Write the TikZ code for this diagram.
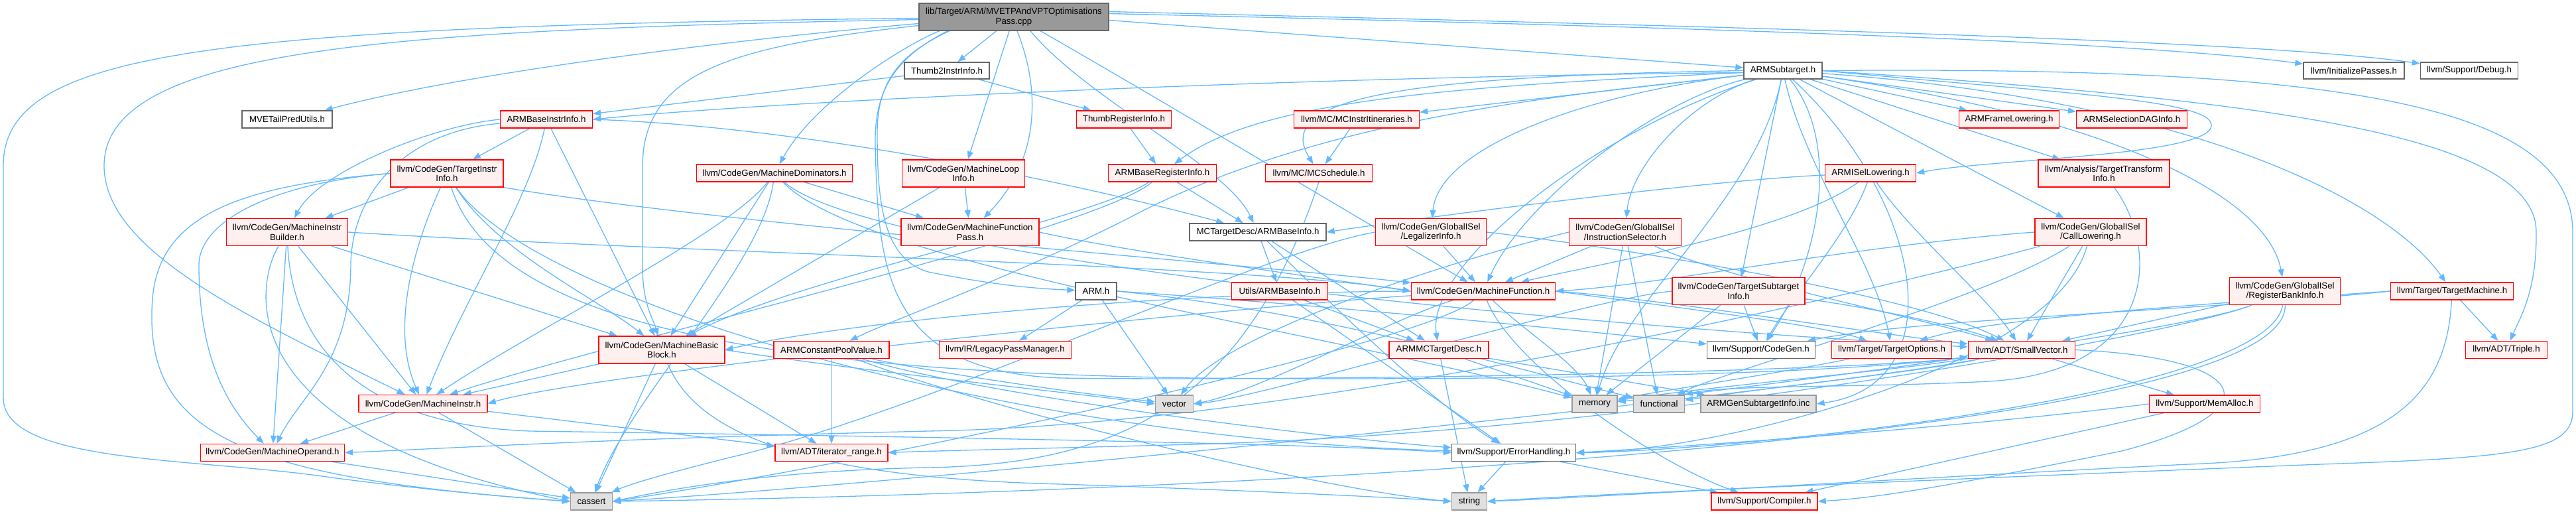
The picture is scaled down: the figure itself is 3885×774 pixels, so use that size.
\documentclass[tikz,border=0pt]{standalone}
\usepackage{fontspec}
\setmainfont{Liberation Sans}
\usetikzlibrary{arrows.meta}
\pgfdeclarelayer{bg}
\pgfsetlayers{bg,main}
\definecolor{edgec}{HTML}{63B8FF}
\definecolor{redfill}{HTML}{FFF0F0}
\definecolor{mainfill}{HTML}{999999}
\definecolor{sysfill}{HTML}{E0E0E0}
\definecolor{greyline}{HTML}{666666}
\definecolor{sysline}{HTML}{999999}
\tikzset{
 box/.style={draw, line width=1.3pt, inner sep=0pt, align=center, font=\fontsize{13.3}{14.5}\selectfont, text=black},
 rbox/.style={box, draw=red, fill=redfill},
 wbox/.style={box, draw=greyline, fill=white},
 sbox/.style={box, draw=sysline, fill=sysfill},
 mbox/.style={box, draw=greyline, fill=mainfill},
 e/.style={draw=edgec, line width=1.3pt, -{Triangle[length=12pt,width=9pt]}},
}
\begin{document}
\begin{tikzpicture}[x=1pt,y=-1pt]
\useasboundingbox (0,0) rectangle (3885,774);
% nodes
\node[mbox, minimum width=286pt, minimum height=41pt] (main) at (1529,25.5) {lib/Target/ARM/MVETPAndVPTOptimisations\\Pass.cpp};
\node[wbox, minimum width=128pt, minimum height=25pt] (thumb2) at (1428,106.5) {Thumb2InstrInfo.h};
\node[wbox, minimum width=118pt, minimum height=25pt] (armsub) at (2689,106.5) {ARMSubtarget.h};
\node[wbox, minimum width=152pt, minimum height=25pt] (initp) at (3550,106.5) {llvm/InitializePasses.h};
\node[wbox, minimum width=147pt, minimum height=25pt] (debug) at (3724,106.5) {llvm/Support/Debug.h};
\node[wbox, minimum width=136pt, minimum height=26pt] (mvetp) at (433,180) {MVETailPredUtils.h};
\node[rbox, minimum width=139pt, minimum height=26pt] (abii) at (824,180) {ARMBaseInstrInfo.h};
\node[rbox, minimum width=143pt, minimum height=26pt] (thumbreg) at (1695,180) {ThumbRegisterInfo.h};
\node[rbox, minimum width=189pt, minimum height=26pt] (mcitin) at (2046,180) {llvm/MC/MCInstrItineraries.h};
\node[rbox, minimum width=151pt, minimum height=26pt] (armframe) at (3030,180) {ARMFrameLowering.h};
\node[rbox, minimum width=167pt, minimum height=26pt] (armsdag) at (3215,180) {ARMSelectionDAGInfo.h};
\node[rbox, minimum width=170pt, minimum height=41pt] (tii) at (674,261.5) {llvm/CodeGen/TargetInstr\\Info.h};
\node[rbox, minimum width=235pt, minimum height=26pt] (mdom) at (1168,261) {llvm/CodeGen/MachineDominators.h};
\node[rbox, minimum width=185pt, minimum height=41pt] (mloop) at (1453,261.5) {llvm/CodeGen/MachineLoop\\Info.h};
\node[rbox, minimum width=163pt, minimum height=26pt] (abri) at (1753,261) {ARMBaseRegisterInfo.h};
\node[rbox, minimum width=161pt, minimum height=26pt] (mcsched) at (1989,261) {llvm/MC/MCSchedule.h};
\node[rbox, minimum width=137pt, minimum height=26pt] (isel) at (2821,261) {ARMISelLowering.h};
\node[rbox, minimum width=198pt, minimum height=41pt] (tti) at (3173,261.5) {llvm/Analysis/TargetTransform\\Info.h};
\node[rbox, minimum width=183pt, minimum height=41pt] (mib) at (433,350) {llvm/CodeGen/MachineInstr\\Builder.h};
\node[rbox, minimum width=208pt, minimum height=41pt] (mfp) at (1463,350) {llvm/CodeGen/MachineFunction\\Pass.h};
\node[wbox, minimum width=206pt, minimum height=26pt] (mcabi) at (1897,350) {MCTargetDesc/ARMBaseInfo.h};
\node[rbox, minimum width=167pt, minimum height=41pt] (legal) at (2158,350) {llvm/CodeGen/GlobalISel\\/LegalizerInfo.h};
\node[rbox, minimum width=169pt, minimum height=41pt] (instsel) at (2451,350) {llvm/CodeGen/GlobalISel\\/InstructionSelector.h};
\node[rbox, minimum width=168pt, minimum height=41pt] (calllow) at (3153,350) {llvm/CodeGen/GlobalISel\\/CallLowering.h};
\node[wbox, minimum width=62pt, minimum height=26pt] (armh) at (1653,439) {ARM.h};
\node[rbox, minimum width=145pt, minimum height=26pt] (uabi) at (1930,439) {Utils/ARMBaseInfo.h};
\node[rbox, minimum width=217pt, minimum height=26pt] (mf) at (2237,439) {llvm/CodeGen/MachineFunction.h};
\node[rbox, minimum width=200pt, minimum height=41pt] (tsi) at (2622,439) {llvm/CodeGen/TargetSubtarget\\Info.h};
\node[rbox, minimum width=167pt, minimum height=41pt] (rbi) at (3446,439) {llvm/CodeGen/GlobalISel\\/RegisterBankInfo.h};
\node[rbox, minimum width=185pt, minimum height=26pt] (tm) at (3698,439) {llvm/Target/TargetMachine.h};
\node[rbox, minimum width=190pt, minimum height=41pt] (mbb) at (998,527.5) {llvm/CodeGen/MachineBasic\\Block.h};
\node[rbox, minimum width=174pt, minimum height=26pt] (acpv) at (1254,527.5) {ARMConstantPoolValue.h};
\node[rbox, minimum width=199pt, minimum height=26pt] (lpm) at (1516,527.5) {llvm/IR/LegacyPassManager.h};
\node[rbox, minimum width=150pt, minimum height=26pt] (mcdesc) at (2170,527.5) {ARMMCTargetDesc.h};
\node[wbox, minimum width=163pt, minimum height=26pt] (codegen) at (2656,527.5) {llvm/Support/CodeGen.h};
\node[rbox, minimum width=181pt, minimum height=26pt] (topt) at (2853,527.5) {llvm/Target/TargetOptions.h};
\node[rbox, minimum width=161pt, minimum height=26pt] (svec) at (3049,527.5) {llvm/ADT/SmallVector.h};
\node[rbox, minimum width=123pt, minimum height=26pt] (triple) at (3780,527.5) {llvm/ADT/Triple.h};
\node[rbox, minimum width=194pt, minimum height=26pt] (minstr) at (638,608.5) {llvm/CodeGen/MachineInstr.h};
\node[sbox, minimum width=57pt, minimum height=26pt] (vector) at (1771,609) {vector};
\node[sbox, minimum width=68pt, minimum height=26pt] (memory) at (2405,609) {memory};
\node[sbox, minimum width=77pt, minimum height=26pt] (functional) at (2502,609) {functional};
\node[sbox, minimum width=174pt, minimum height=26pt] (gensub) at (2652,609) {ARMGenSubtargetInfo.inc};
\node[rbox, minimum width=167pt, minimum height=26pt] (memalloc) at (3325,609) {llvm/Support/MemAlloc.h};
\node[rbox, minimum width=217pt, minimum height=26pt] (mop) at (411,682.5) {llvm/CodeGen/MachineOperand.h};
\node[rbox, minimum width=170pt, minimum height=26pt] (iterr) at (1254,682.5) {llvm/ADT/iterator\_range.h};
\node[wbox, minimum width=187pt, minimum height=26pt] (errh) at (2283,682.5) {llvm/Support/ErrorHandling.h};
\node[sbox, minimum width=63pt, minimum height=26pt] (cassert) at (892,756) {cassert};
\node[sbox, minimum width=53pt, minimum height=26pt] (string) at (2216,756) {string};
\node[rbox, minimum width=160pt, minimum height=26pt] (compiler) at (2661,756) {llvm/Support/Compiler.h};

\begin{pgfonlayer}{bg}
% main
\draw[e] ([yshift=-2pt]main.west) .. controls (300,40) and (5,80) .. (5,250) -- (5,600) .. controls (5,700) and (300,690) .. (500,720) .. controls (650,740) and (800,752) .. (cassert.west);
\draw[e] ([yshift=-4pt]main.west) .. controls (600,45) and (157,70) .. (157,250) .. controls (157,380) and (380,480) .. (minstr);
\draw[e] ([yshift=-10pt]main.west) .. controls (1100,60) and (700,110) .. ([xshift=-12pt]mvetp.north east);
\draw[e] ([yshift=-13pt]main.west) .. controls (1100,70) and (970,110) .. (969,250) -- (969,400) .. controls (969,460) and (985,480) .. (mbb);
\draw[e] (main) -- (thumb2);
\draw[e] (main) -- (mloop);
\draw[e] ([xshift=5pt]main.south) .. controls (1575,150) and (1560,250) .. (mfp);
\draw[e] ([xshift=-112pt]main.south) .. controls (1370,65) and (1230,150) .. (mdom);
\draw[e] ([xshift=-97pt]main.south) .. controls (1360,80) and (1323,120) .. (1323,200) .. controls (1323,300) and (1330,390) .. (1400,410) .. controls (1500,430) and (1560,435) .. (armh);
\draw[e] ([xshift=-100pt]main.south) .. controls (1355,85) and (1318,130) .. (1320,220) .. controls (1325,400) and (1330,560) .. (1600,570) .. controls (2000,575) and (2800,560) .. (svec);
\draw[e] ([xshift=40pt]main.south) .. controls (1750,150) and (2050,330) .. (mf);
\draw[e] ([xshift=25pt]main.south) .. controls (1640,150) and (1850,250) .. (mcabi);
\draw[e] ([yshift=-5pt]main.east) -- (armsub);
\draw[e] ([yshift=5pt]main.east) .. controls (2500,40) and (3200,60) .. (initp);
\draw[e] ([yshift=8pt]main.east) .. controls (2600,40) and (3400,60) .. (debug);
% thumb2
\draw[e] (thumb2) -- (abii);
\draw[e] (thumb2) -- (thumbreg);
\draw[e] (thumbreg) -- (abri);
% armsub
\draw[e] ([yshift=-3pt]armsub.west) .. controls (2000,115) and (1200,150) .. (abii.east);
\draw[e] (armsub) .. controls (2200,130) and (1900,150) .. (abri);
\draw[e] (armsub) -- (mcitin);
\draw[e] (armsub.west) .. controls (2100,115) and (1920,150) .. (mcsched);
\draw[e] (armsub) .. controls (2400,140) and (2000,170) .. (1700,330) .. controls (1500,430) and (1350,480) .. (acpv);
\draw[e] (armsub) .. controls (2400,140) and (2170,220) .. (legal);
\draw[e] (armsub) .. controls (2550,150) and (2460,250) .. (instsel);
\draw[e] (armsub) .. controls (2500,150) and (2300,300) .. (mf);
\draw[e] (armsub) -- (tsi);
\draw[e] (armsub) .. controls (2780,220) and (2740,400) .. (codegen);
\draw[e] (armsub) .. controls (2720,250) and (2830,400) .. (topt);
\draw[e] (armsub) .. controls (2900,300) and (2950,580) .. (gensub.east);
\draw[e] (armsub) .. controls (2650,300) and (2450,450) .. (memory);
\draw[e] (armsub.east) .. controls (3500,100) and (3880,150) .. (3880,350) -- (3880,620) .. controls (3880,680) and (3800,690) .. (3500,700) .. controls (3000,720) and (2400,745) .. (string.east);
\draw[e] (armsub) -- (armframe);
\draw[e] (armsub) -- (armsdag);
\draw[e] (armsub.east) .. controls (3100,140) and (3340,150) .. (3335,190) .. controls (3330,235) and (3000,240) .. (isel.east);
\draw[e] (armsub) -- (tti);
\draw[e] (armsub) -- (calllow);
\draw[e] (armsub) .. controls (3200,180) and (3420,300) .. (rbi);
\draw[e] (armsub) .. controls (3300,150) and (3600,300) .. (tm);
\draw[e] (armsub.east) .. controls (3400,150) and (3825,200) .. (3825,350) .. controls (3826,440) and (3800,480) .. (triple);
\draw[e] (armsub) .. controls (2400,200) and (2150,400) .. (mcdesc);
% abii
\draw[e] (abii) -- (tii);
\draw[e] (abii.west) .. controls (650,190) and (480,260) .. (mib);
\draw[e] ([yshift=-6pt]abii.west) .. controls (600,200) and (530,300) .. (529,400) .. controls (528,550) and (450,600) .. (mop);
\draw[e] (abii) .. controls (800,300) and (700,450) .. (minstr);
\draw[e] (abii) -- (mbb);
\draw[e] (abii.east) .. controls (1200,190) and (1600,270) .. (mcabi);
% tii
\draw[e] (tii) -- (mib);
\draw[e] (tii.west) .. controls (420,275) and (300,330) .. (300,400) .. controls (300,550) and (350,620) .. (mop);
\draw[e] (tii.west) .. controls (350,280) and (240,330) .. (230,450) .. controls (215,650) and (350,720) .. (cassert.west);
\draw[e] (tii) .. controls (620,380) and (590,500) .. (minstr);
\draw[e] (tii) .. controls (750,380) and (900,450) .. (mbb);
\draw[e] (tii.south east) .. controls (1100,340) and (1900,400) .. (mf);
\draw[e] (tii) .. controls (750,500) and (1200,560) .. (1800,570) .. controls (2400,575) and (2800,560) .. (svec);
\draw[e] (tii) .. controls (800,450) and (1500,660) .. (errh);
% mib
\draw[e] (mib) -- (mop);
\draw[e] (mib) .. controls (390,420) and (330,650) .. (cassert.west);
\draw[e] (mib) -- (minstr);
\draw[e] (mib) -- (mbb);
\draw[e] (mib.east) .. controls (1000,380) and (1900,400) .. (mf.west);
\draw[e] (mib) .. controls (440,500) and (520,640) .. (800,650) .. controls (1500,660) and (2000,670) .. (errh.west);
% mdom
\draw[e] (mdom) -- (mfp);
\draw[e] (mdom) -- (mbb);
\draw[e] (mdom) .. controls (1100,350) and (800,500) .. (minstr);
\draw[e] (mdom) .. controls (1300,380) and (2200,480) .. (svec);
\draw[e] (mdom) .. controls (1150,400) and (950,600) .. (cassert);
\draw[e] (mdom) .. controls (1300,400) and (2000,500) .. (memory);
% mloop
\draw[e] (mloop) -- (mfp);
\draw[e] (mloop) -- (mbb);
\draw[e] (mfp.east) .. controls (1700,380) and (2000,420) .. (mf.west);
% abri
\draw[e] (abri) -- (mcabi);
\draw[e] (abri) .. controls (1650,330) and (1200,420) .. (mbb);
\draw[e] (abri) .. controls (1650,350) and (900,520) .. (minstr);
% mcabi
\draw[e] (mcabi) -- (uabi);
\draw[e] (mcabi) -- (mcdesc);
\draw[e] (mcabi) .. controls (2000,450) and (2150,600) .. (errh);
\draw[e] (uabi) -- (mcdesc);
\draw[e] (uabi) -- (errh);
\draw[e] (mcitin) -- (mcsched);
\draw[e] (mcsched.south) .. controls (1880,600) and (1700,700) .. (1400,705) .. controls (1150,710) and (1000,740) .. (cassert.east);
% isel
\draw[e] ([yshift=-3pt]isel.west) .. controls (2600,270) and (2200,320) .. (mcabi.east);
\draw[e] (isel) .. controls (2880,350) and (3000,450) .. (svec);
\draw[e] (isel) .. controls (2700,350) and (2400,400) .. (mf);
\draw[e] (isel) .. controls (2790,350) and (2700,450) .. (codegen);
% tti
\draw[e] (tti) .. controls (3260,380) and (3250,560) .. (3000,575) .. controls (2800,585) and (2600,580) .. (functional.north east);
% calllow
\draw[e] (calllow.west) .. controls (2800,370) and (2500,430) .. (mf.east);
\draw[e] (calllow) .. controls (2900,420) and (2000,640) .. (1400,650) .. controls (900,662) and (700,675) .. (mop.east);
\draw[e] (calllow) -- (svec);
\draw[e] (calllow) .. controls (3100,550) and (2600,680) .. (errh.east);
\draw[e] (calllow) .. controls (3000,450) and (2600,560) .. (functional);
% legal
\draw[e] (legal) -- (mf);
\draw[e] (legal.west) .. controls (1900,380) and (1400,620) .. (1100,690) .. controls (1000,715) and (950,730) .. (cassert);
\draw[e] (legal.east) .. controls (2500,380) and (2900,450) .. (svec);
% instsel
\draw[e] (instsel) -- (mf);
\draw[e] (instsel) .. controls (2600,420) and (2900,480) .. (svec);
\draw[e] (instsel) -- (functional);
\draw[e] (instsel) -- (memory);
\draw[e] (instsel.west) .. controls (2200,390) and (1850,500) .. (vector);
% mf
\draw[e] (mf.west) .. controls (1800,440) and (1300,480) .. (mbb.east);
\draw[e] (mf) .. controls (1900,460) and (900,560) .. (minstr.east);
\draw[e] (mf.east) .. controls (2500,450) and (2800,500) .. (svec);
\draw[e] (mf.east) .. controls (2500,460) and (2750,490) .. (topt);
\draw[e] (mf) .. controls (2280,550) and (2500,700) .. (compiler);
\draw[e] (mf) .. controls (2150,520) and (1300,700) .. (cassert.east);
\draw[e] (mf) .. controls (2300,500) and (2380,550) .. (memory);
\draw[e] (mf) .. controls (2100,480) and (1900,590) .. (vector.east);
% tsi
\draw[e] (tsi.west) .. controls (2400,450) and (1900,600) .. (vector.east);
\draw[e] (tsi) -- (memory);
\draw[e] (tsi) -- (codegen);
\draw[e] (tsi) .. controls (2800,460) and (2950,490) .. (svec);
% rbi
\draw[e] (rbi) -- (svec);
\draw[e] (rbi) .. controls (3300,500) and (2500,650) .. (1800,670) .. controls (1500,678) and (1400,680) .. (iterr.east);
\draw[e] (rbi) .. controls (3420,600) and (2600,680) .. (errh.east);
\draw[e] (rbi) .. controls (3450,650) and (2000,740) .. (cassert.east);
\draw[e] (rbi) .. controls (3300,500) and (2600,590) .. (memory);
% tm
\draw[e] (tm.west) .. controls (3300,470) and (2900,480) .. (codegen);
\draw[e] (tm.west) .. controls (3300,460) and (3000,480) .. (topt);
\draw[e] (tm) -- (triple);
\draw[e] (tm) .. controls (3690,600) and (3600,690) .. (3300,700) .. controls (2900,720) and (2400,750) .. (string.east);
% armh
\draw[e] (armh) -- (lpm);
\draw[e] (armh) -- (vector);
\draw[e] (armh.east) .. controls (2000,460) and (2400,500) .. (codegen);
\draw[e] (armh.east) .. controls (2000,470) and (2300,560) .. (functional);
% acpv
\draw[e, line width=0.9pt] (acpv) -- (iterr);
\draw[e] (acpv) .. controls (1400,560) and (1600,590) .. (vector);
\draw[e] (acpv) .. controls (1500,600) and (2000,660) .. (errh);
\draw[e] (acpv) .. controls (1500,620) and (2000,740) .. (string.west);
% mbb
\draw[e] (mbb) -- (minstr);
\draw[e] (mbb) -- (iterr);
\draw[e] (mbb) -- (cassert);
\draw[e] (mbb) .. controls (1050,650) and (1200,720) .. (1600,730) .. controls (1900,740) and (2100,750) .. (string.west);
\draw[e] (mbb.east) .. controls (1300,560) and (1600,590) .. (vector.west);
% mcdesc
\draw[e] (mcdesc) -- (memory);
\draw[e] (mcdesc) -- (string);
\draw[e] (mcdesc) -- (gensub);
\draw[e] (topt) .. controls (2700,560) and (2500,590) .. (memory);
% svec
\draw[e] (svec) .. controls (2800,580) and (1500,720) .. (cassert.east);
\draw[e] (svec) .. controls (2900,560) and (2700,580) .. (functional);
\draw[e] (svec) .. controls (2850,560) and (2600,580) .. (memory);
\draw[e] (svec.east) .. controls (3400,540) and (3430,620) .. (3200,680) .. controls (3000,720) and (2850,750) .. (compiler.east);
\draw[e] (svec) -- (memalloc);
\draw[e] (memalloc) -- (compiler);
\draw[e] (memalloc.west) .. controls (3000,640) and (2600,670) .. (errh.east);
\draw[e] (errh) -- (compiler);
\draw[e] (errh) -- (string);
% minstr, mop
\draw[e] (minstr) -- (mop);
\draw[e] (minstr) -- (cassert);
\draw[e] (minstr) -- (iterr);
\draw[e] (mop) -- (cassert);
\end{pgfonlayer}
\end{tikzpicture}
\end{document}
